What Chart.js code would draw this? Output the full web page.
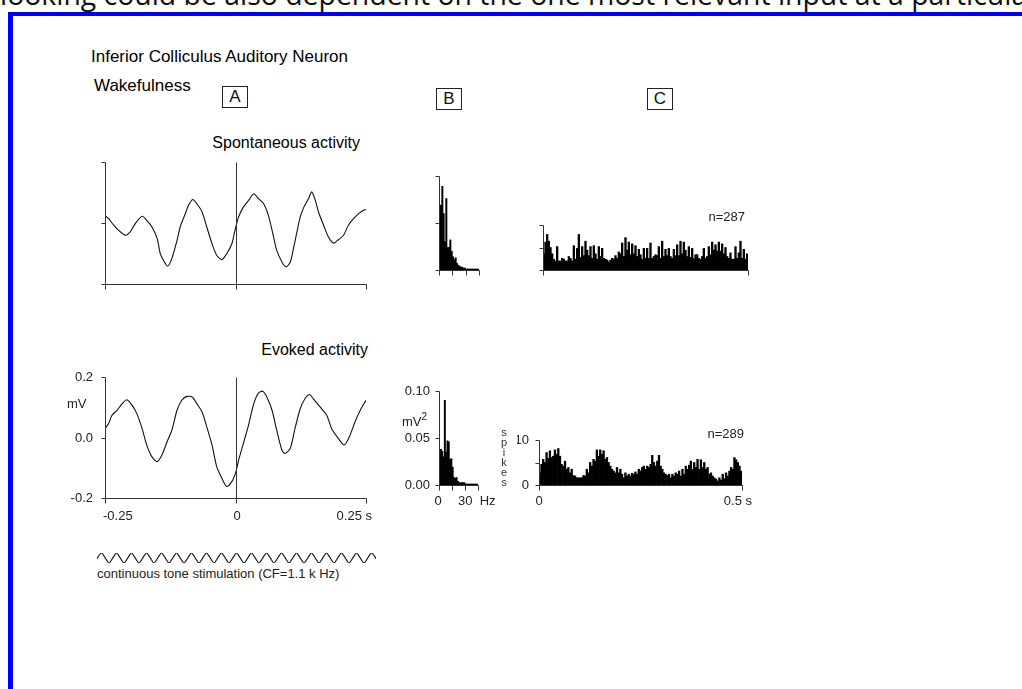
<!DOCTYPE html>
<html><head><meta charset="utf-8">
<script src="https://cdn.jsdelivr.net/npm/chart.js@4.4.1/dist/chart.umd.min.js"></script>
<style>
html,body{margin:0;padding:0;background:#fff;}
body{width:1022px;height:689px;overflow:hidden;position:relative;font-family:"Liberation Sans",Arial,sans-serif;}
.t{position:absolute;white-space:nowrap;color:#111;line-height:1;}
canvas{position:absolute;}
#frame{position:absolute;left:8px;top:12px;width:1100px;height:800px;border-left:5px solid #0000ff;border-top:4px solid #0000ff;}
#topline{position:absolute;left:0;top:-20px;font-family:"Open Sans",sans-serif;font-size:28.4px;line-height:1;white-space:nowrap;color:#111;}
.box{position:absolute;box-sizing:border-box;width:26px;height:22px;border:1px solid #222;font-size:17px;line-height:20px;text-align:center;color:#111;}
</style>
</head><body>
<div id="topline">looking could be also dependent on the one most relevant input at a particular moment</div>
<div id="frame"></div>
<script>
// ---------- data ----------
const spontTimeS = [-0.250,-0.243,-0.233,-0.224,-0.211,-0.202,-0.192,-0.179,-0.170,-0.160,-0.150,-0.144,-0.138,-0.130,-0.122,-0.112,-0.106,-0.096,-0.090,-0.082,-0.074,-0.064,-0.055,-0.045,-0.036,-0.026,-0.017,-0.007,-0.001,0.006,0.015,0.025,0.035,0.044,0.054,0.063,0.073,0.079,0.089,0.097,0.105,0.111,0.117,0.124,0.131,0.140,0.146,0.153,0.159,0.169,0.178,0.188,0.197,0.207,0.216,0.226,0.236,0.245,0.250];
const spontMv = [0.025,0.014,-0.008,-0.024,-0.040,-0.030,-0.002,0.022,0.009,-0.013,-0.051,-0.101,-0.122,-0.142,-0.117,-0.057,-0.013,0.031,0.058,0.077,0.063,0.036,-0.013,-0.068,-0.106,-0.120,-0.101,-0.068,-0.024,0.020,0.052,0.074,0.096,0.080,0.063,0.025,-0.046,-0.090,-0.128,-0.144,-0.128,-0.084,-0.035,0.020,0.052,0.080,0.102,0.074,0.036,-0.008,-0.046,-0.066,-0.055,-0.040,-0.008,0.014,0.031,0.042,0.044];
const evokedTimeS = [-0.250,-0.243,-0.237,-0.227,-0.217,-0.208,-0.198,-0.189,-0.179,-0.170,-0.160,-0.150,-0.141,-0.131,-0.122,-0.112,-0.103,-0.093,-0.083,-0.074,-0.064,-0.055,-0.045,-0.036,-0.026,-0.017,-0.007,0.000,0.006,0.015,0.025,0.035,0.044,0.052,0.060,0.070,0.079,0.089,0.095,0.105,0.114,0.124,0.133,0.142,0.149,0.162,0.175,0.184,0.197,0.208,0.218,0.229,0.239,0.250];
const evokedMv = [0.030,0.046,0.073,0.090,0.112,0.125,0.106,0.079,0.030,-0.025,-0.064,-0.080,-0.058,-0.014,0.024,0.090,0.123,0.136,0.134,0.112,0.084,0.035,-0.025,-0.096,-0.135,-0.162,-0.146,-0.118,-0.075,-0.020,0.041,0.112,0.147,0.153,0.134,0.090,0.024,-0.042,-0.053,-0.036,0.030,0.095,0.128,0.142,0.128,0.101,0.073,0.030,-0.003,-0.025,0.002,0.052,0.090,0.123];

const psdFreqHz = [0,1,2,3,4,5,6,7,8,9,10,11,12,13,14,15,16,17,18,19,20,21,22,23,24,25,26,27,28,29];
const spontPsd = [0.035,0.069,0.089,0.060,0.030,0.076,0.024,0.024,0.032,0.020,0.014,0.011,0.013,0.007,0.005,0.004,0.003,0.003,0.002,0.002,0.001,0.001,0.001,0.001,0.001,0.001,0.001,0.001,0.001,0.001];
const evokedPsd = [0.012,0.038,0.036,0.030,0.090,0.035,0.047,0.046,0.027,0.028,0.019,0.008,0.007,0.008,0.004,0.0025,0.0025,0.0025,0.0025,0.0025,0.001,0.001,0.001,0.001,0.001,0.001,0.001,0.001,0.001,0.001];

const spontSpikes = [3.6,6.2,7.9,6.4,5.0,3.6,2.4,2.0,5.2,2.0, 2.0,2.6,2.4,2.0,2.0,3.0,2.6,2.0,5.4,2.4, 4.8,7.9,2.8,5.2,3.2,6.4,4.4,3.2,5.2,2.6, 5.4,3.6,2.4,5.2,3.0,4.8,2.6,2.4,2.2,1.8, 2.2,2.6,2.4,3.2,2.6,4.0,3.6,6.0,3.0,7.2, 4.4,6.2,3.4,5.8,3.6,5.4,3.0,4.6,3.4,2.4, 4.8,2.6,4.8,2.6,6.0,2.6,3.0,3.4,3.2,5.2, 2.6,6.4,3.0,4.6,3.2,4.8,3.0,2.6,4.6,3.2, 5.6,3.2,6.4,3.6,6.2,4.4,3.0,5.2,2.8,4.8, 2.6,3.4,3.4,2.6,2.4,3.0,4.8,2.6,3.0,5.2, 3.4,6.2,4.4,5.6,4.2,6.2,4.2,5.8,3.6,5.0, 3.0,2.6,3.8,2.4,2.4,5.2,2.6,3.8,6.4,2.6, 4.6,2.4,3.6];
const evokedSpikes = [2.7,4.6,5.7,5.0,7.2,5.9,7.6,6.1,6.4,7.8, 6.8,8.1,6.4,4.6,4.2,5.3,3.5,3.9,2.7,3.5, 2.1,2.0,1.6,1.6,1.6,1.6,2.1,2.0,3.5,2.7, 5.0,4.2,5.7,5.3,7.8,6.4,7.8,6.8,7.6,5.7, 6.1,5.0,4.2,3.5,3.1,2.7,3.9,2.7,3.5,2.4, 1.6,2.7,2.0,2.4,2.0,2.6,2.4,2.9,2.4,3.5, 3.1,3.9,4.2,3.5,4.2,3.9,4.6,6.6,5.0,4.2, 5.3,6.6,4.2,3.5,2.7,2.4,2.1,2.4,1.6,2.4, 2.0,2.7,2.4,3.1,2.0,3.5,2.4,4.2,3.5,4.4, 5.3,3.5,5.0,3.9,5.7,3.5,5.6,3.9,5.0,3.5, 3.9,2.4,2.7,2.0,1.6,1.3,0.9,1.6,1.1,2.4, 1.4,2.7,2.0,3.1,3.9,3.5,6.1,5.6,5.0,4.2,3.1];

const toneLevels = [-1,1,-1,1,-1,1,-1,1,-1,1,-1,1,-1,1,-1,1,-1,1,-1,1,-1,1,-1,1,-1,1,-1,1,-1,1,-1,1,-1,1,-1,1,-1,1,-1];

const traceXTicks = [-0.25, 0, 0.25];
const traceYTicks = [-0.2, 0, 0.2];
const traceXTickLabels = ['-0.25', '0', '0.25 s'];
const traceYTickLabels = ['-0.2', '0.0', '0.2'];
const psdXTicks = [0, 10, 20, 30];
const psdYTicks = [0, 0.05, 0.10];
const psdXTickLabels = ['0', '', '', '30  Hz'];
const psdYTickLabels = ['0.00', '0.05', '0.10'];
const psthXTicks = [0, 0.5];
const psthYTicks = [0, 5, 10];
const psthXTickLabels = ['0', '0.5 s'];
const psthYTickLabels = ['0', '', '10'];

// ---------- helpers ----------
const FONT = '"Liberation Sans", Arial, sans-serif';
const AX = '#333';
const sciAxes = {
  id: 'sciAxes',
  afterDatasetsDraw(chart) {
    const o = chart.options.plugins.sciAxes;
    if (!o || !o.on) return;
    const ctx = chart.ctx;
    const xs = chart.scales[o.xScale], ys = chart.scales.y;
    const X = v => Math.round(xs.getPixelForValue(v)) + 0.5;
    const Y = v => Math.round(ys.getPixelForValue(v)) + 0.5;
    const yTop = Y(o.yTicks[o.yTicks.length - 1]);
    const yBot = Y(o.yTicks[0]);
    const xl = X(o.xTicks[0]), xr = X(o.xTicks[o.xTicks.length - 1]);
    ctx.save();
    ctx.strokeStyle = AX; ctx.lineWidth = 1;
    ctx.beginPath();
    ctx.moveTo(xl, yTop); ctx.lineTo(xl, yBot); ctx.lineTo(xr, yBot);
    o.yTicks.forEach(v => { ctx.moveTo(xl, Y(v)); ctx.lineTo(xl - 4, Y(v)); });
    o.xTicks.forEach(v => { ctx.moveTo(X(v), yBot); ctx.lineTo(X(v), yBot + 5); });
    if (o.zeroLine !== undefined) { ctx.moveTo(X(o.zeroLine), yTop); ctx.lineTo(X(o.zeroLine), yBot); }
    ctx.stroke();
    ctx.fillStyle = '#222';
    ctx.font = '13px ' + FONT;
    if (o.yLabels) {
      ctx.textAlign = 'right'; ctx.textBaseline = 'middle';
      o.yTicks.forEach((v, i) => { if (o.yLabels[i]) ctx.fillText(o.yLabels[i], xl - 0.5 - o.yGap, Y(v)); });
    }
    if (o.xLabels) {
      ctx.textBaseline = 'alphabetic';
      o.xTicks.forEach((v, i) => {
        if (!o.xLabels[i]) return;
        ctx.textAlign = o.xAlign[i];
        ctx.fillText(o.xLabels[i], X(v) - 0.5 + o.xDx[i], yBot - 0.5 + o.xDy);
      });
    }
    ctx.restore();
  }
};

function makeChart(box, m, cfg) {
  const c = document.createElement('canvas');
  const w = box.r - box.l + m.l + m.r, h = box.b - box.t + m.t + m.b;
  c.width = w; c.height = h;
  c.style.left = (box.l - m.l) + 'px'; c.style.top = (box.t - m.t) + 'px';
  c.style.width = w + 'px'; c.style.height = h + 'px';
  document.body.appendChild(c);
  cfg.options = Object.assign({
    responsive: false, animation: false, events: [],
    layout: { padding: { left: m.l, right: m.r, top: m.t, bottom: m.b } }
  }, cfg.options);
  cfg.options.plugins = Object.assign({ legend: { display: false }, tooltip: { enabled: false }, title: { display: false } }, cfg.options.plugins);
  cfg.plugins = [sciAxes];
  return new Chart(c, cfg);
}

function traceChart(box, m, times, vals, axisOpts) {
  return makeChart(box, m, {
    type: 'line',
    data: { datasets: [{ data: times.map((t, i) => ({ x: t, y: vals[i] })), borderColor: '#111', borderWidth: 1.1, pointRadius: 0, tension: 0.25, fill: false }] },
    options: {
      scales: {
        x: { type: 'linear', min: -0.25, max: 0.25, offset: false, display: false },
        y: { type: 'linear', min: -0.2, max: 0.2, display: false }
      },
      plugins: { sciAxes: Object.assign({ on: true, xScale: 'x', xTicks: traceXTicks, yTicks: traceYTicks, zeroLine: 0 }, axisOpts) }
    }
  });
}

function barChart(box, m, labels, vals, xMax, yMax, xTicks, yTicks, axisOpts) {
  return makeChart(box, m, {
    type: 'bar',
    data: { labels: labels, datasets: [{ data: vals, backgroundColor: '#000', borderWidth: 0, barPercentage: 1, categoryPercentage: 1 }] },
    options: {
      scales: {
        x: { type: 'category', offset: true, display: false },
        xt: { type: 'linear', axis: 'x', position: 'bottom', min: 0, max: xMax, offset: false, display: false },
        y: { type: 'linear', min: 0, max: yMax, display: false }
      },
      plugins: { sciAxes: Object.assign({ on: true, xScale: 'xt', xTicks: xTicks, yTicks: yTicks }, axisOpts) }
    }
  });
}

// ---------- panels ----------
// A: averaged field potential traces
traceChart({ l: 105, r: 366, t: 162, b: 284 }, { l: 10, r: 10, t: 6, b: 10 }, spontTimeS, spontMv, {});
traceChart({ l: 105, r: 366, t: 377, b: 498 }, { l: 45, r: 14, t: 6, b: 28 }, evokedTimeS, evokedMv, {
  yLabels: traceYTickLabels, yGap: 12,
  xLabels: traceXTickLabels, xAlign: ['left', 'center', 'right'], xDx: [-2, 1, 6], xDy: 22
});

// B: power spectra
barChart({ l: 439, r: 479, t: 176, b: 270 }, { l: 8, r: 6, t: 4, b: 8 }, psdFreqHz, spontPsd, 30, 0.10, psdXTicks, psdYTicks, {});
barChart({ l: 439, r: 478, t: 391, b: 485 }, { l: 40, r: 30, t: 6, b: 24 }, psdFreqHz, evokedPsd, 30, 0.10, psdXTicks, psdYTicks, {
  yLabels: psdYTickLabels, yGap: 9,
  xLabels: psdXTickLabels, xAlign: ['center', 'left', 'left', 'left'], xDx: [-1, 0, 0, -20], xDy: 20
});

// C: PSTHs
barChart({ l: 543, r: 748, t: 225, b: 270 }, { l: 8, r: 6, t: 4, b: 8 }, spontSpikes.map((_, i) => i), spontSpikes, 0.5, 10, psthXTicks, psthYTicks, {});
barChart({ l: 539, r: 742, t: 440, b: 485 }, { l: 22, r: 14, t: 6, b: 24 }, evokedSpikes.map((_, i) => i), evokedSpikes, 0.5, 10, psthXTicks, psthYTicks, {
  yLabels: psthYTickLabels, yGap: 10,
  xLabels: psthXTickLabels, xAlign: ['center', 'right'], xDx: [0, 10], xDy: 20
});

// tone stimulus
makeChart({ l: 97, r: 376, t: 553, b: 563 }, { l: 2, r: 2, t: 2, b: 2 }, {
  type: 'line',
  data: { datasets: [{ data: toneLevels.map((v, i) => ({ x: i, y: v })), borderColor: '#111', borderWidth: 1.2, pointRadius: 0, tension: 0.2 }] },
  options: {
    scales: { x: { type: 'linear', min: 0.4, max: 37.6, display: false }, y: { type: 'linear', min: -1, max: 1, display: false } },
    plugins: { sciAxes: { on: false } }
  }
});

// ---------- text ----------
function txt(s, o) {
  const d = document.createElement('div');
  d.className = 't';
  d.innerHTML = s;
  const size = o.size || 13;
  d.style.fontSize = size + 'px';
  d.style.top = (o.cy - size / 2) + 'px';
  if (o.left !== undefined) d.style.left = o.left + 'px';
  if (o.right !== undefined) d.style.right = (1022 - o.right) + 'px';
  if (o.color) d.style.color = o.color;
  document.body.appendChild(d);
}
txt('Inferior Colliculus Auditory Neuron', { left: 91, cy: 56, size: 17, color: '#000' });
txt('Wakefulness', { left: 94, cy: 85, size: 17, color: '#000' });
txt('Spontaneous activity', { right: 360, cy: 143, size: 16, color: '#000' });
txt('Evoked activity', { right: 368, cy: 350, size: 16, color: '#000' });
txt('mV', { left: 67, cy: 403, color: '#222' });
txt('mV<sup style="font-size:10px;vertical-align:6px;">2</sup>', { left: 402, cy: 418, color: '#222' });
txt('n=287', { right: 745, cy: 216, color: '#222' });
txt('n=289', { right: 744, cy: 433, color: '#222' });
txt('continuous tone stimulation (CF=1.1 k Hz)', { left: 97, cy: 573, size: 13, color: '#222' });
['s', 'p', 'i', 'k', 'e', 's'].forEach((ch, i) => {
  const d = document.createElement('div');
  d.className = 't';
  d.textContent = ch;
  d.style.fontSize = '11px';
  d.style.left = '501px'; d.style.width = '6px'; d.style.textAlign = 'center';
  d.style.top = (427 + i * 10) + 'px';
  d.style.color = '#333';
  document.body.appendChild(d);
});
[['A', 222, 86], ['B', 436, 88], ['C', 647, 88]].forEach(([s, l, t]) => {
  const d = document.createElement('div');
  d.className = 'box';
  d.textContent = s;
  d.style.left = l + 'px'; d.style.top = t + 'px';
  document.body.appendChild(d);
});
</script>
</body></html>
